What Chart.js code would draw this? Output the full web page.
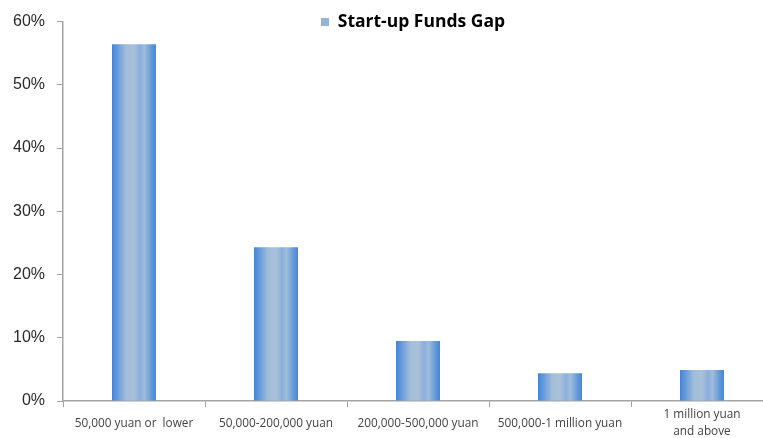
<!DOCTYPE html>
<html>
<head>
<meta charset="utf-8">
<script src="https://cdn.jsdelivr.net/npm/chart.js@4.4.1/dist/chart.umd.min.js"></script>
<style>
  html, body { margin: 0; padding: 0; background: #fff; overflow: hidden; }
  #wrap { position: relative; width: 773px; height: 450px; }
</style>
</head>
<body>
<div id="wrap"><canvas id="chart-gap"></canvas></div>
<script>
// ── Data ──────────────────────────────────────────────────────
const CATEGORIES = [
  '50,000 yuan or  lower',
  '50,000-200,000 yuan',
  '200,000-500,000 yuan',
  '500,000-1 million yuan',
  ['1 million yuan', 'and above']
];
const GAP_VALUES = [56.4, 24.3, 9.5, 4.4, 4.9];
const SERIES_LABEL = 'Start-up Funds Gap';
const Y_MIN = 0, Y_MAX = 60, Y_STEP = 10;

const AXIS_GREY = '#a3a3a3';

// horizontal shading across each bar
function barFill(ctx) {
  const chart = ctx.chart;
  if (!chart.chartArea) return '#6d9bd6';
  const meta = chart.getDatasetMeta(ctx.datasetIndex);
  const bar = meta.data[ctx.dataIndex];
  const half = bar && bar.width ? bar.width / 2 : 22;
  const cx = chart.scales.x.getPixelForValue(ctx.dataIndex);
  const g = chart.ctx.createLinearGradient(cx - half, 0, cx + half, 0);
  g.addColorStop(0.00, '#4485d8');
  g.addColorStop(0.12, '#6599d9');
  g.addColorStop(0.32, '#a2bdd9');
  g.addColorStop(0.50, '#a9c2da');
  g.addColorStop(0.64, '#8aaedc');
  g.addColorStop(0.74, '#a0bddb');
  g.addColorStop(0.88, '#689cdb');
  g.addColorStop(1.00, '#4487d9');
  return g;
}

// legend floats above the plot (top centre), as in the source
const legendOverlay = {
  id: 'legendOverlay',
  afterLayout(chart) {
    const lg = chart.legend;
    if (!lg) return;
    const w = lg.width;
    lg.left = 321;
    lg.right = 321 + w;
    lg.top = 0;
    lg.bottom = 44;
  }
};

new Chart(document.getElementById('chart-gap'), {
  type: 'bar',
  data: {
    labels: CATEGORIES,
    datasets: [{
      label: SERIES_LABEL,
      data: GAP_VALUES,
      backgroundColor: barFill,
      borderWidth: 0,
      barPercentage: 0.31,
      categoryPercentage: 1
    }]
  },
  options: {
    responsive: true,
    maintainAspectRatio: false,
    animation: false,
    layout: { padding: { top: 21, right: 0, bottom: 0, left: 0 } },
    plugins: {
      legend: {
        position: 'chartArea',
        align: 'center',
        labels: {
          boxWidth: 8,
          boxHeight: 8,
          padding: 0,
          color: '#1e1e1e',
          font: { family: "'Open Sans', sans-serif", size: 17.5, weight: 'bold' },
          generateLabels: chart => [{
            text: SERIES_LABEL,
            fillStyle: '#94b3d8',
            strokeStyle: '#94b3d8',
            lineWidth: 0,
            datasetIndex: 0
          }]
        }
      },
      tooltip: { enabled: false }
    },
    scales: {
      x: {
        grid: {
          display: true,
          drawOnChartArea: false,
          tickLength: 6,
          color: AXIS_GREY,
          offset: true
        },
        border: { color: AXIS_GREY, width: 1.5 },
        ticks: {
          color: '#444',
          padding: 8,
          maxRotation: 0,
          autoSkip: false,
          crossAlign: 'center',
          font: { family: "'Open Sans', sans-serif", size: 11.8, lineHeight: 1.44 }
        },
        afterFit: s => { s.height = 49; }
      },
      y: {
        min: Y_MIN,
        max: Y_MAX,
        grid: {
          display: true,
          drawOnChartArea: false,
          tickLength: 6,
          color: AXIS_GREY
        },
        border: { color: AXIS_GREY, width: 1.5 },
        ticks: {
          stepSize: Y_STEP,
          color: '#2a2a2a',
          padding: 12,
          font: { family: "'Liberation Sans', Arial, sans-serif", size: 16 },
          callback: v => v + '%'
        },
        afterFit: s => { s.width = 63; }
      }
    }
  },
  plugins: [legendOverlay]
});
</script>
</body>
</html>
